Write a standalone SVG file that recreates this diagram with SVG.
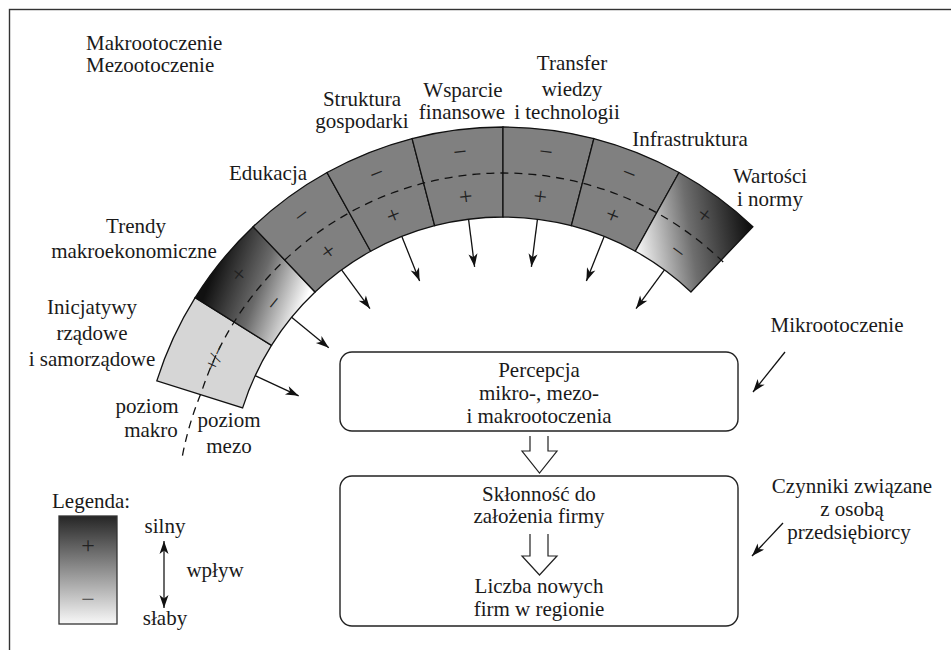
<svg xmlns="http://www.w3.org/2000/svg" xmlns:xlink="http://www.w3.org/1999/xlink" width="951" height="650" viewBox="0 0 951 650">
<style>
text{font-family:"Liberation Serif","Times New Roman",serif;font-size:21px;fill:#1a1a1a}
.c{text-anchor:middle}
.sign{font-size:24px;text-anchor:middle;fill:#222}
.pm{font-size:19px;text-anchor:middle;fill:#222}
.cell{stroke:#111;stroke-width:1.3}
.gray{fill:#808080}
.light{fill:#d6d6d6}
.conn{stroke:#111;stroke-width:1.3;fill:none}
.box{fill:#fff;stroke:#222;stroke-width:1.4}
.hollow{fill:#fff;stroke:#222;stroke-width:1.2}
</style>
<defs>
<path id="cellShape" d="M457.19,129.90 A363,363 0 0 1 548.81,129.90 L537.45,219.18 A273,273 0 0 0 468.55,219.18 Z"/>
<linearGradient id="gTrendy" x1="0.35" y1="0" x2="0.7" y2="1">
<stop offset="0" stop-color="#111"/><stop offset="0.5" stop-color="#6a6a6a"/><stop offset="1" stop-color="#ffffff"/>
</linearGradient>
<linearGradient id="gWart" x1="0.95" y1="0.05" x2="0.05" y2="0.95">
<stop offset="0" stop-color="#111"/><stop offset="0.5" stop-color="#6e6e6e"/><stop offset="1" stop-color="#ffffff"/>
</linearGradient>
<linearGradient id="gLegend" x1="0" y1="0" x2="0" y2="1">
<stop offset="0" stop-color="#262626"/><stop offset="1" stop-color="#f8f8f8"/>
</linearGradient>
<marker id="ah" viewBox="-14 -6 15 12" markerWidth="15" markerHeight="12" refX="0" refY="0" orient="auto-start-reverse" markerUnits="userSpaceOnUse">
<path d="M0,0 L-13,-4.5 L-9.5,0 L-13,4.5 Z" fill="#111"/>
</marker>
</defs>
<rect x="9.5" y="9.5" width="1000" height="1000" fill="none" stroke="#333" stroke-width="1.4"/>
<text x="86" y="50">Makrootoczenie</text>
<text x="86" y="72">Mezootoczenie</text>
<g id="inicjatywy">
<g transform="rotate(-65.25 503 490)"><use href="#cellShape" class="cell light"/></g>
<text class="c" x="92" y="314">Inicjatywy</text>
<text class="c" x="92" y="340">rządowe</text>
<text class="c" x="92" y="366">i samorządowe</text>
</g>
<g id="trendy">
<g transform="rotate(-50.75 503 490)"><use href="#cellShape" class="cell" fill="url(#gTrendy)"/>
<text class="sign" x="503" y="157">+</text><text class="sign" x="503" y="202">−</text></g>
<text class="c" x="136" y="233">Trendy</text>
<text class="c" x="134" y="258">makroekonomiczne</text>
</g>
<g id="edukacja">
<g transform="rotate(-36.25 503 490)"><use href="#cellShape" class="cell gray"/>
<text class="sign" x="503" y="157">−</text><text class="sign" x="503" y="202">+</text></g>
<text class="c" x="268" y="180">Edukacja</text>
</g>
<g id="struktura">
<g transform="rotate(-21.75 503 490)"><use href="#cellShape" class="cell gray"/>
<text class="sign" x="503" y="157">−</text><text class="sign" x="503" y="202">+</text></g>
<text class="c" x="362" y="106">Struktura</text>
<text class="c" x="362" y="128">gospodarki</text>
</g>
<g id="wsparcie">
<g transform="rotate(-7.25 503 490)"><use href="#cellShape" class="cell gray"/>
<text class="sign" x="503" y="157">−</text><text class="sign" x="503" y="202">+</text></g>
<text class="c" x="463" y="97">Wsparcie</text>
<text class="c" x="462" y="119">finansowe</text>
</g>
<g id="transfer">
<g transform="rotate(7.25 503 490)"><use href="#cellShape" class="cell gray"/>
<text class="sign" x="503" y="157">−</text><text class="sign" x="503" y="202">+</text></g>
<text class="c" x="572" y="70">Transfer</text>
<text class="c" x="572" y="96">wiedzy</text>
<text class="c" x="567" y="119">i technologii</text>
</g>
<g id="infrastruktura">
<g transform="rotate(21.75 503 490)"><use href="#cellShape" class="cell gray"/>
<text class="sign" x="503" y="157">−</text><text class="sign" x="503" y="202">+</text></g>
<text class="c" x="690" y="146">Infrastruktura</text>
</g>
<g id="wartosci">
<g transform="rotate(36.25 503 490)"><use href="#cellShape" class="cell" fill="url(#gWart)"/>
<text class="sign" x="503" y="157">+</text><text class="sign" x="503" y="202">−</text></g>
<text class="c" x="770" y="183">Wartości</text>
<text class="c" x="770" y="206">i normy</text>
</g>
<g id="levels">
<path d="M723.2,262 A317,317 0 0 0 201.5,392 A330,330 0 0 0 182,458" fill="none" stroke="#111" stroke-width="1.3" stroke-dasharray="8 6"/>
<text class="pm" x="503" y="179.5" transform="rotate(-65.25 503 490)">+/−</text>
<text class="c" x="147" y="413">poziom</text>
<text class="c" x="151" y="437">makro</text>
<text class="c" x="229" y="427">poziom</text>
<text class="c" x="229" y="453">mezo</text>
</g>
<g id="percepcja">
<rect class="box" x="340" y="352" width="398" height="79" rx="12"/>
<text class="c" x="539" y="377">Percepcja</text>
<text class="c" x="539" y="400">mikro-, mezo-</text>
<text class="c" x="539" y="423">i makrootoczenia</text>
</g>
<g id="sklonnosc">
<rect class="box" x="340" y="476" width="398" height="150" rx="12"/>
<text class="c" x="539" y="501">Skłonność do</text>
<text class="c" x="539" y="523">założenia firmy</text>
<text class="c" x="539" y="593">Liczba nowych</text>
<text class="c" x="539" y="616">firm w regionie</text>
</g>
<g id="mikro">
<text class="c" x="837" y="332">Mikrootoczenie</text>
</g>
<g id="czynniki">
<text class="c" x="852" y="493">Czynniki związane</text>
<text class="c" x="852" y="516">z osobą</text>
<text class="c" x="849" y="539">przedsiębiorcy</text>
</g>
<g id="legend">
<text x="52" y="508">Legenda:</text>
<rect x="59" y="516" width="58" height="108" fill="url(#gLegend)" stroke="#333" stroke-width="1.3"/>
<text class="sign" x="88" y="553" style="fill:#222">+</text>
<text class="sign" x="88" y="607" style="fill:#444">−</text>
<text class="c" x="165" y="533">silny</text>
<text class="c" x="215" y="577">wpływ</text>
<text class="c" x="165" y="625">słaby</text>
</g>
<g id="connectors">
<line class="conn" x1="503" y1="217" x2="503" y2="265" marker-end="url(#ah)" transform="rotate(-65.25 503 490)"/>
<line class="conn" x1="503" y1="217" x2="503" y2="265" marker-end="url(#ah)" transform="rotate(-50.75 503 490)"/>
<line class="conn" x1="503" y1="217" x2="503" y2="265" marker-end="url(#ah)" transform="rotate(-36.25 503 490)"/>
<line class="conn" x1="503" y1="217" x2="503" y2="265" marker-end="url(#ah)" transform="rotate(-21.75 503 490)"/>
<line class="conn" x1="503" y1="217" x2="503" y2="265" marker-end="url(#ah)" transform="rotate(-7.25 503 490)"/>
<line class="conn" x1="503" y1="217" x2="503" y2="265" marker-end="url(#ah)" transform="rotate(7.25 503 490)"/>
<line class="conn" x1="503" y1="217" x2="503" y2="265" marker-end="url(#ah)" transform="rotate(21.75 503 490)"/>
<line class="conn" x1="503" y1="217" x2="503" y2="265" marker-end="url(#ah)" transform="rotate(36.25 503 490)"/>
<line class="conn" x1="785" y1="352" x2="753" y2="392" marker-end="url(#ah)"/>
<line class="conn" x1="783" y1="523" x2="752" y2="556" marker-end="url(#ah)"/>
<path class="hollow" d="M530,436 L530,451 L522,451 L539.5,473 L557,451 L548,451 L548,436"/>
<path class="hollow" d="M530,534 L530,556 L522,556 L539.5,575 L557,556 L548,556 L548,534"/>
<line x1="164" y1="541" x2="164" y2="608" stroke="#444" stroke-width="1.6" marker-start="url(#ah)" marker-end="url(#ah)"/>
</g>
</svg>
